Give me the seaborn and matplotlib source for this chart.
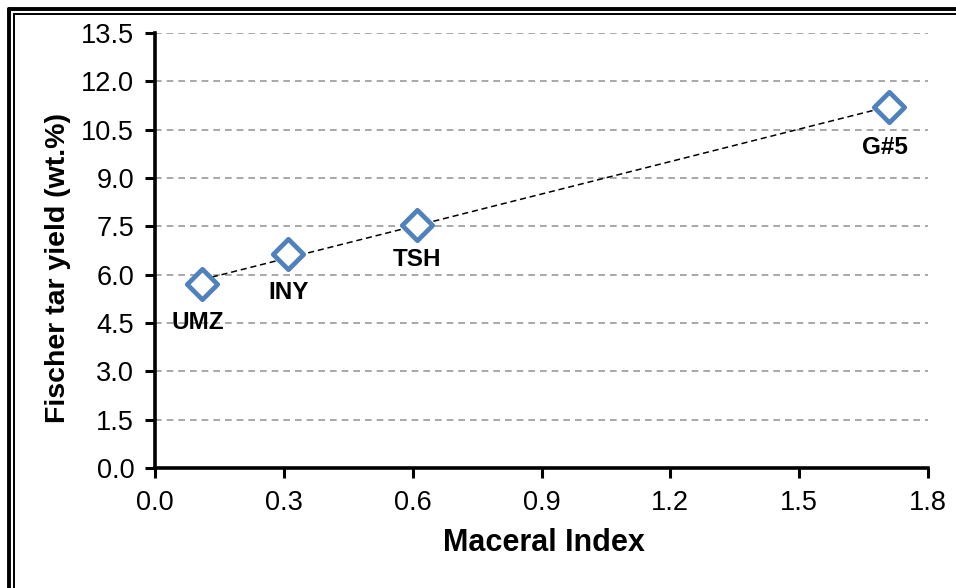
import numpy as np
import pandas as pd
import seaborn as sns
import matplotlib.pyplot as plt
from matplotlib.lines import Line2D

samples = ["UMZ", "INY", "TSH", "G#5"]
maceral_index = [0.11, 0.31, 0.61, 1.71]
tar_yield = [5.72, 6.65, 7.55, 11.20]

x_ticks = [0.0, 0.3, 0.6, 0.9, 1.2, 1.5, 1.8]
y_ticks = [0.0, 1.5, 3.0, 4.5, 6.0, 7.5, 9.0, 10.5, 12.0, 13.5]

df = pd.DataFrame({"sample": samples, "mi": maceral_index, "tar": tar_yield})

sns.set_theme(style="white")
plt.rcParams["font.family"] = ["Liberation Sans", "DejaVu Sans"]

fig = plt.figure(figsize=(9.56, 5.88), dpi=100)
ax = fig.add_axes([155 / 956, 1 - 468 / 588, 773 / 956, 435 / 588])

# dashed grey horizontal gridlines
for yv in y_ticks[1:]:
    ax.axhline(yv, color="#9a9a9a", lw=1.2, ls=(0, (4, 3)), zorder=0)

# linear trend line across the sample range
coef = np.polyfit(df["mi"], df["tar"], 1)
xs = np.array([df["mi"].min(), df["mi"].max()])
ax.plot(xs, np.polyval(coef, xs), color="black", lw=1.1, ls=(0, (4, 2.5)), zorder=2)

sns.scatterplot(data=df, x="mi", y="tar", ax=ax, marker="D", s=240,
                facecolor="white", edgecolor="#4F81BD", linewidth=3.4, zorder=3)

label_offsets = {"UMZ": (-0.01, -1.2), "INY": (-0.0, -1.2), "TSH": (0.0, -1.07), "G#5": (-0.01, -1.25)}
for s, xv, yv in zip(samples, maceral_index, tar_yield):
    dx, dy = label_offsets[s]
    ax.text(xv + dx, yv + dy, s, ha="center", va="center", fontsize=17.5, fontweight="bold", color="black")

ax.set_xlim(0, 1.8)
ax.set_ylim(0, 13.5)
ax.set_xticks(x_ticks)
ax.set_yticks(y_ticks)
ax.set_xticklabels([f"{v:.1f}" for v in x_ticks])
ax.set_yticklabels([f"{v:.1f}" for v in y_ticks])
ax.tick_params(axis="both", which="major", direction="out", length=7, width=2.2,
               color="black", labelsize=19.5, labelcolor="black", pad=8, bottom=True, left=True)
ax.tick_params(axis="x", pad=9)

for side in ["top", "right"]:
    ax.spines[side].set_visible(False)
for side in ["left", "bottom"]:
    ax.spines[side].set_visible(True)
    ax.spines[side].set_color("black")
    ax.spines[side].set_linewidth(2.6)

ax.set_xlabel("Maceral Index", fontsize=22, fontweight="bold", color="black")
ax.set_ylabel("Fischer tar yield (wt.%)", fontsize=20.5, fontweight="bold", color="black")
ax.xaxis.set_label_coords(0.503, -0.172)
ax.yaxis.set_label_coords(-0.125, 0.46)
ax.xaxis.label.set_verticalalignment("center")
ax.yaxis.label.set_verticalalignment("center")

# double frame around the chart area
W, H = 956, 588
for off, lw in [(9, 2.8), (14, 1.4)]:
    fig.add_artist(Line2D([off / W, off / W], [0, 1 - off / H], transform=fig.transFigure, color="black", lw=lw))
    fig.add_artist(Line2D([off / W, 1], [1 - off / H, 1 - off / H], transform=fig.transFigure, color="black", lw=lw))

fig.savefig("out.png", dpi=100, facecolor="white")
